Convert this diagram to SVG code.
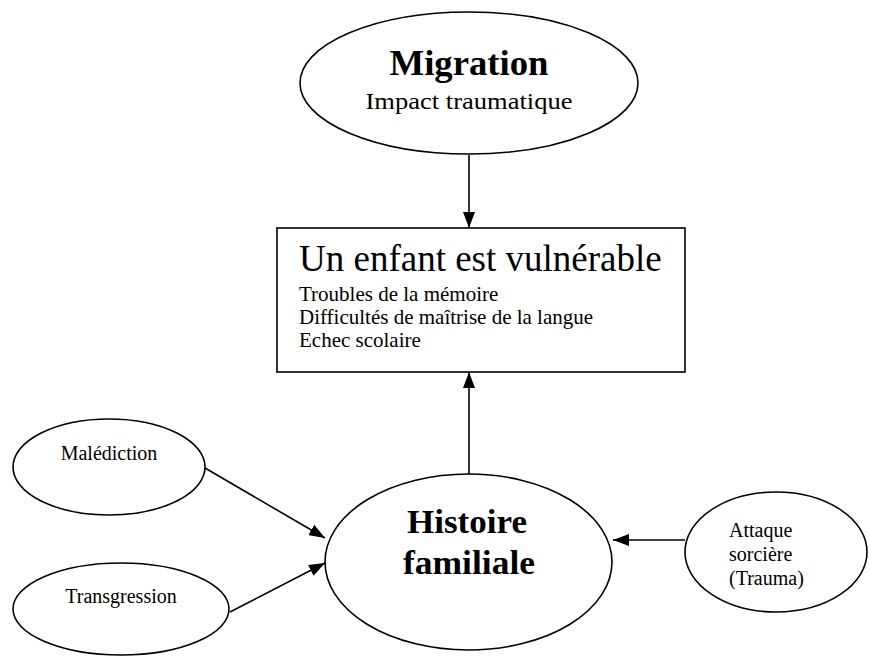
<svg xmlns="http://www.w3.org/2000/svg" width="869" height="656" viewBox="0 0 869 656">
<defs>
<style>
.shape{fill:#fff;stroke:#000;stroke-width:1.6}
.t{font-family:"Liberation Serif","Times New Roman",serif;fill:#000}
.b{font-weight:bold}
.c{text-anchor:middle}
.edge{stroke:#000;stroke-width:1.6;fill:none;marker-end:url(#ah)}
</style>
<marker id="ah" markerUnits="userSpaceOnUse" markerWidth="16" markerHeight="12" refX="16" refY="6" orient="auto">
<path d="M0,0 L16,6 L0,12 z" fill="#000"/>
</marker>
</defs>
<rect width="869" height="656" fill="#fff"/>
<g id="connectors">
<line class="edge" x1="469" y1="155" x2="469" y2="228"/>
<line class="edge" x1="469" y1="474" x2="469" y2="372"/>
<line class="edge" x1="205" y1="468" x2="325" y2="538"/>
<line class="edge" x1="230" y1="612" x2="325" y2="563"/>
<line class="edge" x1="685" y1="540" x2="613" y2="540"/>
</g>
<g id="migration">
<ellipse class="shape" cx="469" cy="83" rx="169" ry="71"/>
<text class="t b c" x="469" y="75" font-size="35" textLength="159" lengthAdjust="spacingAndGlyphs">Migration</text>
<text class="t c" x="469" y="109" font-size="23" textLength="207" lengthAdjust="spacingAndGlyphs">Impact traumatique</text>
</g>
<g id="enfant">
<rect class="shape" x="277" y="228" width="408" height="144"/>
<text class="t" x="299" y="271" font-size="37">Un enfant est vulnérable</text>
<text class="t" x="299" y="301" font-size="21">Troubles de la mémoire</text>
<text class="t" x="299" y="324" font-size="21">Difficultés de maîtrise de la langue</text>
<text class="t" x="299" y="347" font-size="21">Echec scolaire</text>
</g>
<g id="malediction">
<ellipse class="shape" cx="109" cy="467" rx="96" ry="48"/>
<text class="t c" x="109" y="460" font-size="20">Malédiction</text>
</g>
<g id="transgression">
<ellipse class="shape" cx="121" cy="609" rx="108" ry="46"/>
<text class="t c" x="121" y="603" font-size="20">Transgression</text>
</g>
<g id="histoire">
<ellipse class="shape" cx="468.5" cy="562" rx="143.5" ry="88"/>
<text class="t b c" x="467" y="533" font-size="34" textLength="120" lengthAdjust="spacingAndGlyphs">Histoire</text>
<text class="t b c" x="469" y="574" font-size="34" textLength="132" lengthAdjust="spacingAndGlyphs">familiale</text>
</g>
<g id="attaque">
<ellipse class="shape" cx="776" cy="552" rx="91" ry="60"/>
<text class="t" x="729" y="537" font-size="20">Attaque</text>
<text class="t" x="729" y="561" font-size="20">sorcière</text>
<text class="t" x="729" y="585" font-size="20">(Trauma)</text>
</g>
</svg>
